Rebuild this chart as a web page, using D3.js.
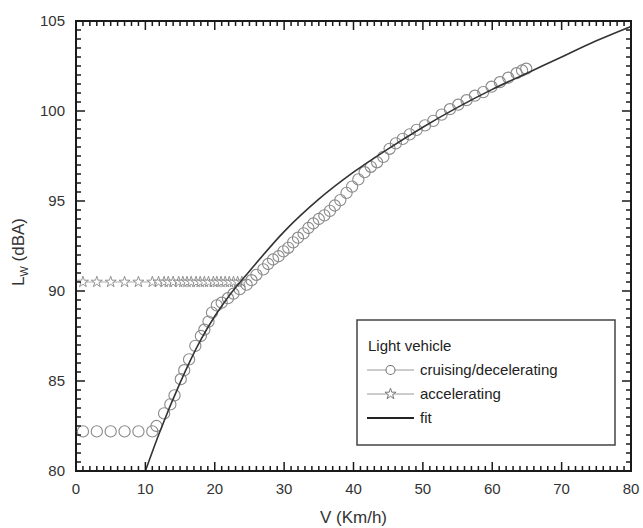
<!DOCTYPE html>
<html><head><meta charset="utf-8">
<script src="https://cdn.jsdelivr.net/npm/d3@7"></script>
<style>
html,body{margin:0;padding:0;background:#fff;}
svg{display:block;font-family:"Liberation Sans",Arial,sans-serif;}
</style></head>
<body>
<svg id="c" width="643" height="528"></svg>
<script>
// ---- data ----
const xTicks = [0,10,20,30,40,50,60,70,80];
const yTicks = [80,85,90,95,100,105];

const cruiseV = [1,3,5,7,9,11,11.6,12.7,13.6,14.2,15.1,15.6,16.3,17.2,18.0,18.5,19.1,19.6,20.3,21.0,21.9,22.7,23.6,24.6,25.3,26.0,27.0,27.7,28.4,29.2,29.9,30.6,31.3,32.0,32.8,33.5,34.2,35.0,35.8,36.6,37.3,38.1,39.0,39.8,40.7,41.6,42.5,43.4,44.3,45.2,46.1,47.1,48.1,49.1,50.3,51.5,52.7,53.9,55.1,56.3,57.5,58.7,59.9,61.1,62.3,63.5,64.3,64.9];
const cruiseL = [82.2,82.2,82.2,82.2,82.2,82.2,82.5,83.2,83.7,84.2,85.1,85.6,86.2,86.95,87.5,87.85,88.3,88.8,89.2,89.35,89.6,89.85,90.1,90.35,90.6,90.9,91.2,91.5,91.75,91.93,92.2,92.4,92.7,92.96,93.2,93.5,93.75,94.0,94.2,94.45,94.75,95.05,95.45,95.8,96.2,96.6,96.9,97.15,97.45,97.9,98.2,98.45,98.7,98.95,99.2,99.45,99.8,100.1,100.35,100.6,100.85,101.05,101.35,101.6,101.85,102.1,102.25,102.35];

const accelV = [1,3,5,7,9,11,11.9,12.7,13.3,14,14.8,15.4,16,16.6,17.3,17.9,18.5,19.1,19.8,20.3,20.9,21.5,22.1,22.7,23.3,23.9];
const accelL = [90.5,90.5,90.5,90.5,90.5,90.5,90.5,90.5,90.5,90.5,90.5,90.5,90.5,90.5,90.5,90.5,90.5,90.5,90.5,90.5,90.5,90.5,90.5,90.5,90.5,90.5];

const fitV = [10,12,15,18,20,22,25,30,35,40,45,50,55,60,65,70,75,80];
const fitL = [80.0,82.1,84.9,87.3,88.6,89.7,91.1,93.3,95.1,96.6,97.9,99.1,100.2,101.2,102.1,103.0,103.9,104.7];

const legendTitle = "Light vehicle";
const legendLabels = ["cruising/decelerating","accelerating","fit"];

// ---- layout ----
const svg = d3.select("#c");
const L = 76, R = 631, T = 21, B = 471;
const x = d3.scaleLinear().domain([0,80]).range([L,R]);
const y = d3.scaleLinear().domain([80,105]).range([B,T]);

const xMinor = d3.range(1,80,1).filter(v=>v%10!==0);
const yMinor = d3.range(1,50,1).filter(v=>v%10!==0).map(v=>80+v/2);

let td = "";
function xt(vals,len){
  vals.forEach(v=>{ const px = x(v); td += `M${px},${B}V${B-len}M${px},${T}V${T+len}`; });
}
function yt(vals,len){
  vals.forEach(v=>{ const py = y(v); td += `M${L},${py}H${L+len}M${R},${py}H${R-len}`; });
}
xt(xTicks,9); xt(xMinor,5); yt(yTicks,9); yt(yMinor,5);

svg.append("rect").attr("x",L).attr("y",T).attr("width",R-L).attr("height",B-T)
  .attr("fill","none").attr("stroke","#1a1a1a").attr("stroke-width",2);

// tick labels
svg.append("g").selectAll("text").data(xTicks).join("text")
  .attr("x",d=>x(d)).attr("y",B+23).attr("text-anchor","middle")
  .attr("font-size","15px").attr("fill","#333").text(d=>d);
svg.append("g").selectAll("text").data(yTicks).join("text")
  .attr("x",L-11).attr("y",d=>y(d)+5).attr("text-anchor","end")
  .attr("font-size","15px").attr("fill","#333").text(d=>d);

const plot = svg.append("g");
const fit = fitV.map((v,i)=>({v,l:fitL[i]}));
const inRange = d=>d.l>=80 && d.l<=105;

// accelerating: stars with thin connecting line
const accel = accelV.map((v,i)=>({v,l:accelL[i]}));
plot.append("path").datum(accel)
  .attr("d",d3.line().x(d=>x(d.v)).y(d=>y(d.l)))
  .attr("fill","none").attr("stroke","#999").attr("stroke-width",0.8);
const star = d3.symbol().type(d3.symbolStar).size(38);
plot.selectAll(".star").data(accel).join("path")
  .attr("class","star")
  .attr("transform",d=>`translate(${x(d.v)},${y(d.l)})`)
  .attr("d",star).attr("fill","#fff").attr("stroke","#888").attr("stroke-width",0.9);

// cruising: hollow circles
const cruise = cruiseV.map((v,i)=>({v,l:cruiseL[i]}));
plot.selectAll(".circ").data(cruise).join("circle")
  .attr("class","circ")
  .attr("cx",d=>x(d.v)).attr("cy",d=>y(d.l)).attr("r",5.6)
  .attr("fill","none").attr("stroke","#8a8a8a").attr("stroke-width",1.1);

// fit
plot.append("path").datum(fit.filter(inRange))
  .attr("d",d3.line().x(d=>x(d.v)).y(d=>y(d.l)).curve(d3.curveMonotoneX))
  .attr("fill","none").attr("stroke","#333").attr("stroke-width",1.6);

// tick marks, inward on all four sides
svg.append("path").attr("class","ticks").attr("d",td).attr("fill","none")
  .attr("stroke","#1a1a1a").attr("stroke-width",1.5);

// axis titles
svg.append("text").attr("x",(L+R)/2).attr("y",523).attr("text-anchor","middle")
  .attr("font-size","17px").attr("fill","#333").text("V (Km/h)");
const yl = svg.append("text").attr("transform",`translate(24,${(T+B)/2+6}) rotate(-90)`)
  .attr("text-anchor","middle").attr("font-size","17px").attr("fill","#333");
yl.append("tspan").text("L");
yl.append("tspan").attr("font-size","11px").attr("dy",4).text("W");
yl.append("tspan").attr("dy",-4).text(" (dBA)");

// legend
const lg = svg.append("g");
lg.append("rect").attr("x",357).attr("y",320).attr("width",258).attr("height",125)
  .attr("fill","#fff").attr("stroke","#444").attr("stroke-width",1.5);
lg.append("text").attr("x",368).attr("y",351).attr("font-size","15px").attr("fill","#222").text(legendTitle);
const rows = [375,399,423];
const sx1 = 367, sx2 = 414;
legendLabels.forEach((lab,i)=>{
  const yy = rows[i]-5;
  lg.append("line").attr("x1",sx1).attr("x2",sx2).attr("y1",yy).attr("y2",yy)
    .attr("stroke", i===2 ? "#222" : "#999").attr("stroke-width", i===2 ? 1.8 : 1);
  if(i===0){
    lg.append("circle").attr("cx",(sx1+sx2)/2).attr("cy",yy).attr("r",4.5)
      .attr("fill","#fff").attr("stroke","#777").attr("stroke-width",1.1);
  } else if(i===1){
    lg.append("path").attr("transform",`translate(${(sx1+sx2)/2},${yy})`).attr("d",star)
      .attr("fill","#fff").attr("stroke","#777").attr("stroke-width",1);
  }
  lg.append("text").attr("x",420).attr("y",rows[i]).attr("font-size","15px").attr("fill","#222").text(lab);
});
</script>
</body></html>
